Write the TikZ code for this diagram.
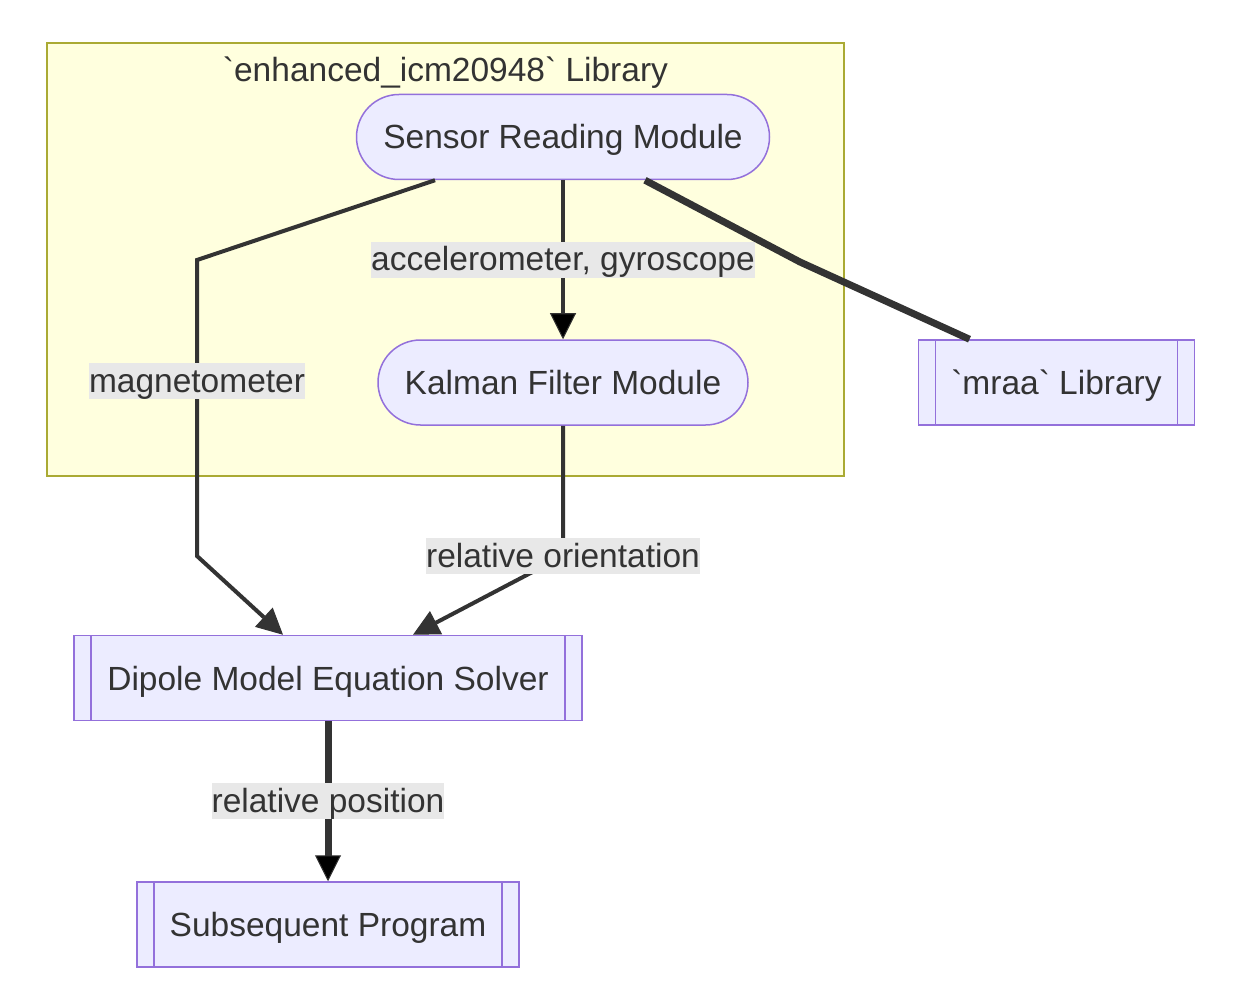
\documentclass[tikz,border=0pt]{standalone}
\usepackage{fontspec}
\setmainfont{Liberation Sans}
\usetikzlibrary{positioning,arrows.meta}
\definecolor{boxfill}{HTML}{ECECFF}
\definecolor{boxline}{HTML}{9370DB}
\definecolor{grpfill}{HTML}{FFFFDE}
\definecolor{grpline}{HTML}{AAAA33}
\definecolor{ink}{HTML}{333333}
\definecolor{lblfill}{HTML}{E8E8E8}
\tikzset{
  txt/.style={font=\fontsize{33.5}{40}\selectfont, text=ink, text height=24pt, text depth=0pt},
  mod/.style={txt, draw=boxline, fill=boxfill, line width=1.5pt, minimum height=85pt, rounded corners=42.5pt},
  sub/.style={txt, draw=boxline, fill=boxfill, line width=1.5pt, minimum height=85pt,
    path picture={\draw[boxline, line width=1.5pt]
      ([xshift=17pt]path picture bounding box.north west) -- ([xshift=17pt]path picture bounding box.south west)
      ([xshift=-17pt]path picture bounding box.north east) -- ([xshift=-17pt]path picture bounding box.south east);}},
  grp/.style={draw=grpline, fill=grpfill, line width=1.5pt},
  lbl/.style={txt, fill=lblfill, inner xsep=0pt, inner ysep=2pt, text height=27pt, text depth=5pt},
  arr/.style={draw=ink, line width=4pt, -{Triangle[length=26pt,width=26pt,line width=1pt]}},
  thk/.style={draw=ink, line width=7pt}
}
\begin{document}
\begin{tikzpicture}[x=1pt,y=-1pt]
\useasboundingbox (0,0) rectangle (1242,1008);
\node[grp, minimum width=797pt, minimum height=433pt] (L) at (445.5,259.5) {};
\node[txt] (T) at ([yshift=-27pt]L.north) {\textasciigrave enhanced\_icm20948\textasciigrave{} Library};
\node[mod, minimum width=413pt] (S) at (563,137) {Sensor Reading Module};
\node[mod, minimum width=370pt] (K) [below=159pt of S] {Kalman Filter Module};
\node[sub, minimum width=276pt] (M) [right=169pt of K] {\textasciigrave mraa\textasciigrave{} Library};
\node[sub, minimum width=508pt] (D) at (328,678) {Dipole Model Equation Solver};
\node[sub, minimum width=382pt] (P) [below=160pt of D] {Subsequent Program};
% bends
\coordinate (m1) at (197,260);
\coordinate (m2) at (197,556);
\coordinate (k1) at (563,556);
\coordinate (r1) at (800,262);
\path[arr] (S) edge node[lbl] {accelerometer, gyroscope} (K);
\draw[arr] ([xshift=-128pt]S.south) -- (m1) -- node[lbl,pos=0.41] {magnetometer} (m2) -- ([xshift=-45pt]D.north);
\draw[arr] (K.south) -- (k1) -- ([xshift=85pt]D.north);
\node[lbl] at (k1) {relative orientation};
\draw[thk] ([xshift=82pt]S.south) -- (r1) -- ([xshift=-87pt]M.north);
\path[arr, line width=7pt] (D) edge node[lbl] {relative position} (P);
\end{tikzpicture}
\end{document}
